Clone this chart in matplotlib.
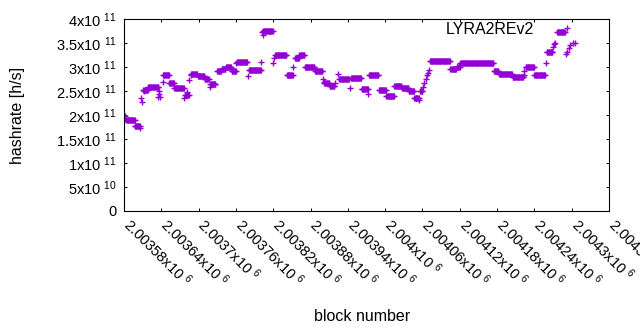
import numpy as np
import matplotlib
matplotlib.use('Agg')
import matplotlib.pyplot as plt
import matplotlib.transforms as mtransforms

plt.rcParams['font.family'] = ['Liberation Sans', 'DejaVu Sans']
plt.rcParams['mathtext.fontset'] = 'custom'
plt.rcParams['mathtext.rm'] = 'Liberation Sans'
plt.rcParams['mathtext.it'] = 'Liberation Sans:italic'
plt.rcParams['mathtext.bf'] = 'Liberation Sans:bold'

# hashrate runs: first block, last block, rate (x1e11 h/s)
run_first = [2003582, 2003582, 2003584, 2003597, 2003606, 2003608, 2003609, 2003611, 2003612,
             2003619, 2003634, 2003636, 2003637, 2003638, 2003642, 2003643, 2003653, 2003661,
             2003676, 2003678, 2003681, 2003685, 2003687, 2003688, 2003699, 2003710, 2003718,
             2003719, 2003730, 2003737, 2003744, 2003753, 2003760, 2003762, 2003780, 2003781,
             2003801, 2003802, 2003803, 2003804, 2003820, 2003821, 2003823, 2003842, 2003852,
             2003855, 2003862, 2003871, 2003887, 2003900, 2003901, 2003902, 2003911, 2003919,
             2003924, 2003926, 2003943, 2003945, 2003962, 2003973, 2003974, 2003990, 2004002,
             2004015, 2004027, 2004038, 2004047, 2004055, 2004056, 2004061, 2004063, 2004065,
             2004067, 2004069, 2004071, 2004072, 2004105, 2004115, 2004121, 2004175, 2004183,
             2004205, 2004223, 2004224, 2004226, 2004240, 2004259, 2004260, 2004270, 2004271,
             2004273, 2004277, 2004291, 2004293, 2004296, 2004298, 2004302, 2004305]
run_last = [2003582, 2003582, 2003597, 2003605, 2003606, 2003608, 2003609, 2003618, 2003612,
            2003635, 2003634, 2003636, 2003637, 2003638, 2003642, 2003652, 2003660, 2003676,
            2003676, 2003684, 2003681, 2003685, 2003687, 2003697, 2003709, 2003716, 2003718,
            2003727, 2003736, 2003743, 2003752, 2003760, 2003760, 2003778, 2003780, 2003800,
            2003801, 2003802, 2003803, 2003819, 2003820, 2003821, 2003841, 2003851, 2003852,
            2003861, 2003870, 2003886, 2003899, 2003900, 2003901, 2003910, 2003918, 2003919,
            2003924, 2003942, 2003943, 2003961, 2003972, 2003973, 2003989, 2004001, 2004014,
            2004026, 2004037, 2004046, 2004054, 2004055, 2004060, 2004061, 2004063, 2004065,
            2004067, 2004069, 2004071, 2004104, 2004114, 2004120, 2004174, 2004182, 2004204,
            2004222, 2004223, 2004224, 2004239, 2004257, 2004259, 2004269, 2004270, 2004271,
            2004273, 2004289, 2004291, 2004293, 2004296, 2004298, 2004302, 2004305]
run_rate = [1.98, 1.92, 1.90, 1.78, 1.73, 2.35, 2.28, 2.53, 2.50,
            2.59, 2.38, 2.50, 2.44, 2.38, 2.69, 2.83, 2.66, 2.56,
            2.36, 2.41, 2.47, 2.73, 2.83, 2.85, 2.82, 2.74, 2.59,
            2.65, 2.92, 2.96, 3.01, 2.91, 3.09, 3.10, 2.81, 2.94,
            3.10, 3.72, 3.67, 3.76, 3.08, 3.18, 3.24, 2.83, 2.99,
            3.18, 3.24, 3.01, 2.91, 2.76, 2.69, 2.67, 2.60, 2.66,
            2.85, 2.76, 2.56, 2.78, 2.54, 2.44, 2.83, 2.52, 2.39,
            2.60, 2.56, 2.50, 2.35, 2.31, 2.50, 2.59, 2.66, 2.74,
            2.83, 2.88, 2.94, 3.12, 2.96, 3.01, 3.08, 2.91, 2.86,
            2.79, 2.92, 2.83, 3.01, 2.84, 3.08, 3.31, 3.42, 3.47,
            3.51, 3.73, 3.28, 3.32, 3.39, 3.46, 3.51, 3.51]

series_name = 'LYRA2REv2'

ytick_vals = [0, 5e10, 1e11, 1.5e11, 2e11, 2.5e11, 3e11, 3.5e11, 4e11]
ytick_text = ['0', '5x10 $^{10}$', '1x10 $^{11}$', '1.5x10 $^{11}$', '2x10 $^{11}$',
              '2.5x10 $^{11}$', '3x10 $^{11}$', '3.5x10 $^{11}$', '4x10 $^{11}$']

# one point per block
blocks = []
rates = []
for a, b, r in zip(run_first, run_last, run_rate):
    for n in range(a, b + 1):
        blocks.append(n)
        rates.append(r * 1e11)

fig = plt.figure(figsize=(6.4, 3.3), dpi=100)
ax = fig.add_axes([124/640, 1 - 211/330, 485/640, 192/330])

ax.plot(blocks, rates, ls='none', marker='+', ms=4.8, mew=1.0,
        color='#9400d3', label=series_name)

ax.set_xlim(2003580, 2004360)
ax.set_ylim(0, 4e11)

xt = np.arange(2003580, 2004361, 60)
ax.set_xticks(xt)
ax.set_xticklabels(['%gx10 $^{6}$' % (v / 1e6) for v in xt], rotation=-45,
                   ha='left', va='baseline', rotation_mode='anchor', fontsize=10.5)
ax.set_yticks(ytick_vals)
ax.set_yticklabels(ytick_text, fontsize=10.5)

ax.tick_params(direction='in', top=True, right=True, length=2.5, width=0.7, pad=5)
ax.tick_params(axis='x', pad=11)
# nudge the rotated labels a little to the left like gnuplot does
shift = mtransforms.ScaledTranslation(-2/100, 0, fig.dpi_scale_trans)
for lab in ax.get_xticklabels():
    lab.set_transform(lab.get_transform() + shift)
for s in ax.spines.values():
    s.set_linewidth(0.8)

ax.set_xlabel('block number', fontsize=11.5)
ax.xaxis.set_label_coords(0.49, -0.51)
ax.set_ylabel('hashrate [h/s]', fontsize=11.5)
ax.yaxis.set_label_coords(-0.205, 0.5)

ax.legend(loc='upper right', bbox_to_anchor=(0.957, 0.985), frameon=False,
          markerfirst=False, fontsize=11.5, handlelength=2.6, borderpad=0,
          borderaxespad=0, handletextpad=0.8)

fig.savefig('out.png', dpi=100)
